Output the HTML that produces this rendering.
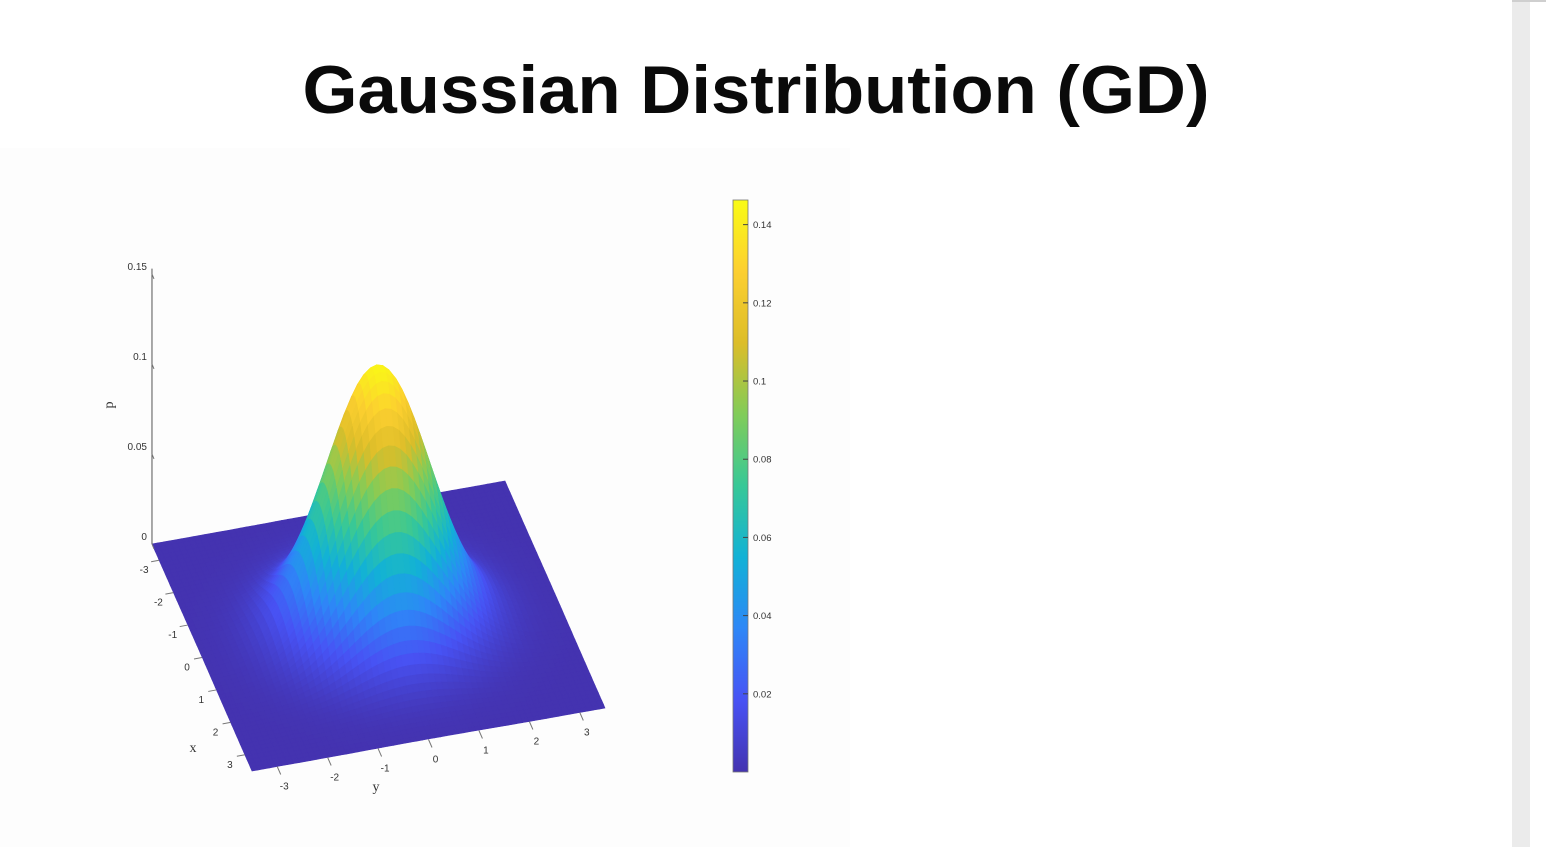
<!DOCTYPE html>
<html><head><meta charset="utf-8">
<style>
html,body{margin:0;padding:0;background:#fff;width:1546px;height:847px;overflow:hidden;font-family:"Liberation Sans",sans-serif}
</style></head>
<body>
<svg id="root" width="1546" height="847" xmlns="http://www.w3.org/2000/svg">
  <rect x="0" y="0" width="1546" height="847" fill="#ffffff"/>
  <rect x="0" y="148" width="850" height="699" fill="#fdfdfd"/>
  <rect x="1512" y="0" width="18" height="847" fill="#ebebeb"/>
  <rect x="1512" y="0" width="34" height="2" fill="#cfcfcf"/>
  <text x="756" y="113" text-anchor="middle" font-size="68" font-weight="bold" textLength="907" lengthAdjust="spacingAndGlyphs" fill="#0a0a0a">Gaussian Distribution (GD)</text>
  <g id="surface"></g>
  <g id="axes"></g>
  <g id="colorbar"></g>
</svg>
<script>
// ---- chart data ----
const xTicks = [-3, -2, -1, 0, 1, 2, 3];
const yTicks = [-3, -2, -1, 0, 1, 2, 3];
const zTicks = [0, 0.05, 0.1, 0.15];
const zTickLabels = ["0", "0.05", "0.1", "0.15"];
const cbTicks = [0.02, 0.04, 0.06, 0.08, 0.1, 0.12, 0.14];
const cbTickLabels = ["0.02", "0.04", "0.06", "0.08", "0.1", "0.12", "0.14"];
const domain = [-3.5, 3.5];
const peakValue = [0.144];
const sigma = [1.0];
const cbRange = [0, 0.1463];

const NS = "http://www.w3.org/2000/svg";
function mk(tag, attrs, parent){const e=document.createElementNS(NS,tag);for(const k in attrs)e.setAttribute(k,attrs[k]);parent.appendChild(e);return e;}

const O=[378.5,626], ex=[14.29,32.43], ey=[50.43,-9], ZS=1800;
function proj(x,y,z){return [O[0]+x*ex[0]+y*ey[0], O[1]+x*ex[1]+y*ey[1]-z*ZS];}

const stops=[[0,[0.265,0.2,0.69]],[0.125,[0.2810,0.3228,0.9578]],[0.25,[0.1786,0.5289,0.9682]],[0.375,[0.0689,0.6948,0.8394]],[0.5,[0.2161,0.7843,0.5923]],[0.625,[0.5044,0.7993,0.3480]],[0.75,[0.8634,0.7406,0.1596]],[0.875,[0.9892,0.8136,0.1885]],[1,[0.9769,0.9839,0.0805]]];
function parula(t){t=Math.max(0,Math.min(1,t));for(let i=1;i<stops.length;i++){if(t<=stops[i][0]){const a=stops[i-1],b=stops[i];const f=(t-a[0])/(b[0]-a[0]);const c=a[1].map((v,j)=>Math.round(255*(v+(b[1][j]-v)*f)));return `rgb(${c[0]},${c[1]},${c[2]})`;}}return "rgb(249,251,20)";}

const N=60, lo=domain[0], hi=domain[1], h=(hi-lo)/N;
function zf(x,y){return peakValue[0]*Math.exp(-(x*x+y*y)/(2*sigma[0]*sigma[0]));}
const surf=document.getElementById('surface');
const quads=[];
for(let i=0;i<N;i++)for(let j=0;j<N;j++){
  const x0=lo+i*h,x1=x0+h,y0=lo+j*h,y1=y0+h;
  quads.push({x0,x1,y0,y1,d:(x0+x1)/2-(y0+y1)/2});
}
quads.sort((a,b)=>a.d-b.d);
for(const q of quads){
  const pts=[[q.x0,q.y0],[q.x1,q.y0],[q.x1,q.y1],[q.x0,q.y1]];
  let zs=0;const s=pts.map(p=>{const z=zf(p[0],p[1]);zs+=z;const P=proj(p[0],p[1],z);return P[0].toFixed(1)+","+P[1].toFixed(1);}).join(" ");
  const col=parula((zs/4-cbRange[0])/(cbRange[1]-cbRange[0]));
  const el=mk('polygon',{points:s,fill:col,stroke:col,'stroke-width':0.6},surf);
  
  
}

const ax=document.getElementById('axes');
const zBase=proj(lo,lo,0);
const zl=mk('line',{x1:zBase[0],y1:zBase[1],x2:zBase[0],y2:zBase[1]-0.153*ZS,stroke:'#555','stroke-width':1},ax);


zTicks.forEach((v,i)=>{
  const y=zBase[1]-v*ZS;
  const t=mk('line',{x1:zBase[0],y1:y,x2:zBase[0]+2,y2:y+5,stroke:'#777','stroke-width':1},ax);
  
  
  const lb=mk('text',{x:zBase[0]-5,y:y-4,'text-anchor':'end','font-size':10,fill:'#333'},ax);
  lb.textContent=zTickLabels[i];
  
  
});
xTicks.forEach(v=>{
  const p=proj(v,lo,0);
  const t=mk('line',{x1:p[0],y1:p[1],x2:p[0]-8,y2:p[1]+1.5,stroke:'#777','stroke-width':1},ax);
  
  
  const lb=mk('text',{x:p[0]-15,y:p[1]+13,'text-anchor':'middle','font-size':10,fill:'#333'},ax);
  lb.textContent=String(v);
  
  
});
yTicks.forEach(v=>{
  const p=proj(hi,v,0);
  const t=mk('line',{x1:p[0],y1:p[1],x2:p[0]+3.5,y2:p[1]+8,stroke:'#777','stroke-width':1},ax);
  
  
  const lb=mk('text',{x:p[0]+7,y:p[1]+23,'text-anchor':'middle','font-size':10,fill:'#333'},ax);
  lb.textContent=String(v);
  
  
});

const pl=mk('text',{x:0,y:0,'font-size':14,'font-family':'"Liberation Serif",serif',fill:'#333',transform:'translate(113,405) rotate(-90)','text-anchor':'middle'},ax);
pl.textContent='p';


const xl=mk('text',{x:193,y:752,'font-size':14,'font-family':'"Liberation Serif",serif',fill:'#333','text-anchor':'middle'},ax);
xl.textContent='x';


const yl=mk('text',{x:376,y:791,'font-size':14,'font-family':'"Liberation Serif",serif',fill:'#333','text-anchor':'middle'},ax);
yl.textContent='y';



const cb=document.getElementById('colorbar');
const cbx=733, cbw=15, cbTop=200, cbBot=772;
function cy(v){return cbBot-(v-cbRange[0])/(cbRange[1]-cbRange[0])*(cbBot-cbTop);}
const defs=mk('defs',{},cb);
const g=mk('linearGradient',{id:'parg',x1:0,y1:1,x2:0,y2:0},defs);
for(let i=0;i<=40;i++){mk('stop',{offset:(i/40).toFixed(3),'stop-color':parula(i/40)},g);}
const r=mk('rect',{x:cbx,y:cbTop,width:cbw,height:cbBot-cbTop,fill:'url(#parg)',stroke:'#777','stroke-width':0.8},cb);


cbTicks.forEach((v,i)=>{
  const y=cy(v);
  const t=mk('line',{x1:cbx+cbw-5,y1:y,x2:cbx+cbw,y2:y,stroke:'#444','stroke-width':1},cb);
  
  
  const lb=mk('text',{x:753,y:y+3.5,'font-size':9.5,fill:'#333'},cb);
  lb.textContent=cbTickLabels[i];
  
  
});
</script>
</body></html>
